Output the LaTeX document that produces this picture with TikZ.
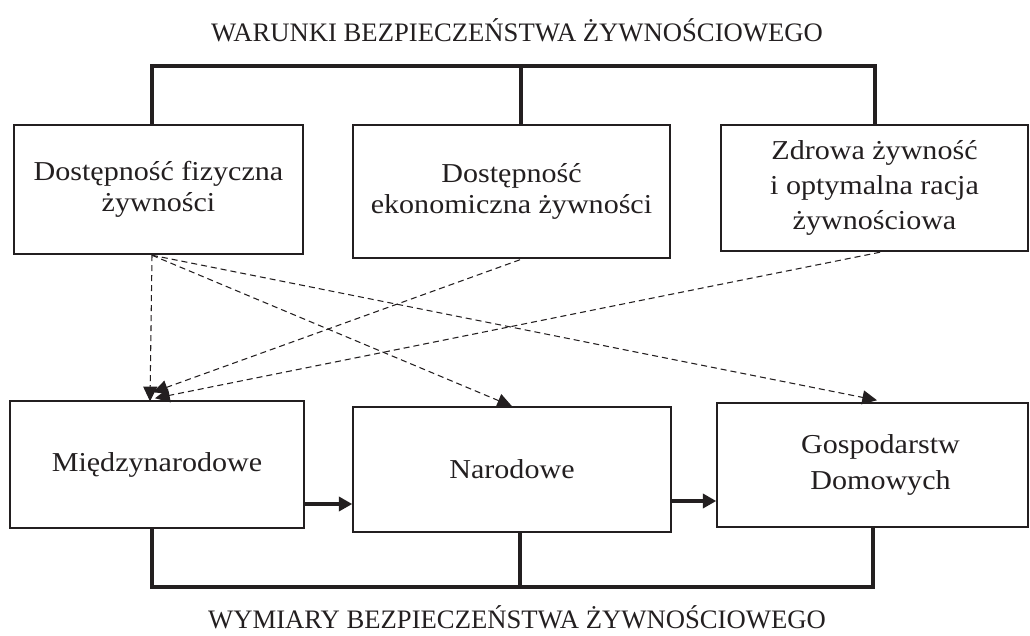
\documentclass[tikz,border=0pt]{standalone}
\usepackage{fontspec}
\setmainfont{Liberation Serif}[FakeStretch=1.1]
\newfontfamily\titlefont{Liberation Serif}
\usetikzlibrary{arrows.meta,calc}
\definecolor{ink}{HTML}{231F20}

\begin{document}
\begin{tikzpicture}[
    x=0.75pt, y=-0.75pt,
    % Ramki
    box size/.style 2 args={minimum width=#1*0.75pt, minimum height=#2*0.75pt},
    cond box/.style={draw=ink, line width=1.1pt, align=center, inner sep=0pt, text=ink,
        font=\fontsize{20.5}{23.5}\selectfont},
    title text/.style={anchor=base, text=ink, font=\titlefont\fontsize{20}{24}\selectfont},
    % Linie
    tree line/.style={draw=ink, line width=2.3pt},
    flow arrow/.style={draw=ink, line width=2.5pt, -{Triangle[length=10pt, width=10.5pt]}},
    link arrow/.style={draw=ink, line width=0.8pt, dash pattern=on 4.5pt off 3pt,
        -{Triangle[length=11pt, width=10.5pt]}}
]
\useasboundingbox (0,0) rectangle (1030,635);

% Tytuly
\node[title text] (tw) at (517,41) {WARUNKI BEZPIECZEŃSTWA ŻYWNOŚCIOWEGO};
\node[title text] (tm) at (517,628) {WYMIARY BEZPIECZEŃSTWA ŻYWNOŚCIOWEGO};

% Warunki
\node[cond box, box size={289}{129}] (w1) at (158.5,189.5) {Dostępność fizyczna\\żywności};
\node[cond box, box size={317}{133}] (w2) at (511.5,191.5) {Dostępność\\ekonomiczna żywności};
\node[cond box, box size={307}{126}, font=\fontsize{20.5}{26.5}\selectfont] (w3) at (874.5,188)
    {Zdrowa żywność\\i optymalna racja\\żywnościowa};

% Wymiary
\node[cond box, box size={294}{127}] (m1) at (157,464.5) {Międzynarodowe};
\node[cond box, box size={318}{125}] (m2) at (512,469.5) {Narodowe};
\node[cond box, box size={311}{124}, font=\fontsize{20.5}{26.5}\selectfont] (m3) at (872.5,465)
    {\hspace*{12pt}Gospodarstw\\\hspace*{12pt}Domowych};

% Klamry gorna i dolna
\coordinate (t1) at (152,66);
\coordinate (t2) at (521,66);
\coordinate (t3) at (875,66);
\draw[tree line] (t1 |- w1.north) -- (t1) -- (t3) -- (t3 |- w3.north);
\draw[tree line] (t2) -- (t2 |- w2.north);

\coordinate (b1) at (152,587);
\coordinate (b2) at (520,587);
\coordinate (b3) at (873,587);
\draw[tree line] (b1 |- m1.south) -- (b1) -- (b3) -- (b3 |- m3.south);
\draw[tree line] (b2) -- (b2 |- m2.south);

% Przeplyw miedzy wymiarami
\coordinate (p1) at ($(m1.east)+(0,39.5)$);
\coordinate (p2) at ($(m2.east)+(0,31.5)$);
\draw[flow arrow] (p1) -- (p1 -| m2.west);
\draw[flow arrow] (p2) -- (p2 -| m3.west);

% Powiazania warunkow z wymiarami
\coordinate (s1) at ($(w1.south)+(-6.5,0.5)$);
\coordinate (s2) at ($(w2.south)+(8.5,1)$);
\coordinate (s3) at ($(w3.south)+(5.5,0.5)$);
\coordinate (e1) at ($(m1.north)+(-7,1)$);
\coordinate (e2) at ($(m1.north)+(-4,-8)$);
\coordinate (e3) at ($(m1.north)+(-2,-2)$);
\coordinate (e4) at ($(m3.north)+(4.5,-2)$);
\draw[link arrow] (s1) -- (e1);
\draw[link arrow] (s1) -- (m2.north);
\draw[link arrow] (s1) -- (e4);
\draw[link arrow] (s2) -- (e2);
\draw[link arrow] (s3) -- (e3);

\end{tikzpicture}
\end{document}
